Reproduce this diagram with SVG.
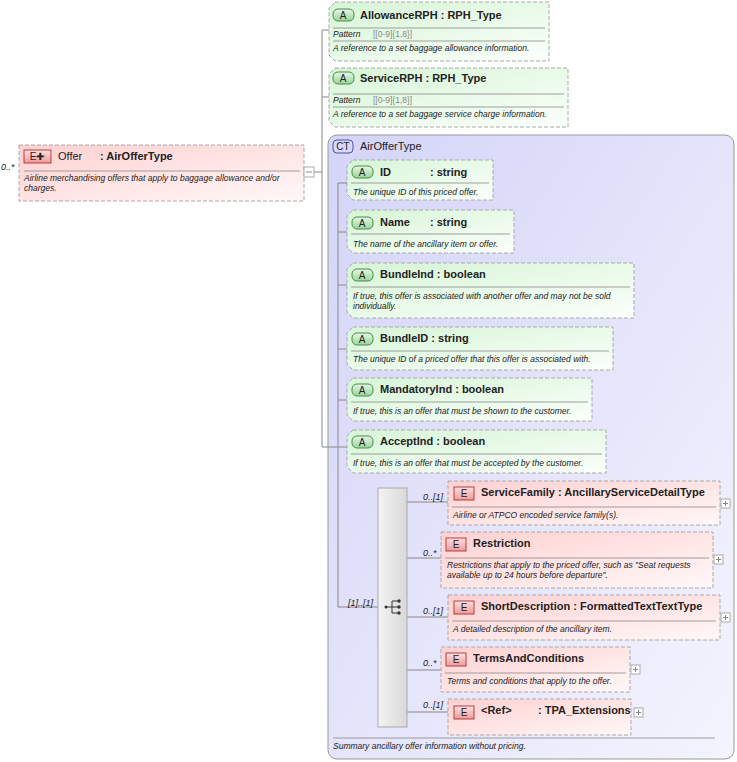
<svg xmlns="http://www.w3.org/2000/svg" width="737" height="762" viewBox="0 0 737 762">
<defs>
<linearGradient id="gA" x1="0" y1="0" x2="1" y2="1"><stop offset="0" stop-color="#d6f5d6"/><stop offset="1" stop-color="#fbfffb"/></linearGradient>
<linearGradient id="gE" x1="0" y1="0" x2="1" y2="1"><stop offset="0" stop-color="#ffd0d0"/><stop offset="1" stop-color="#fff8f8"/></linearGradient>
<linearGradient id="gCT" x1="0" y1="0" x2="1" y2="1"><stop offset="0" stop-color="#d4d4f8"/><stop offset="1" stop-color="#f4f4fe"/></linearGradient>
<linearGradient id="gS" x1="0" y1="0" x2="1" y2="0"><stop offset="0" stop-color="#f4f4f4"/><stop offset="1" stop-color="#d8d8d8"/></linearGradient>
<linearGradient id="gAb" x1="0" y1="0" x2="0" y2="1"><stop offset="0" stop-color="#e6f8e6"/><stop offset="1" stop-color="#9ad49a"/></linearGradient>
<linearGradient id="gEb" x1="0" y1="0" x2="0" y2="1"><stop offset="0" stop-color="#ffe0e0"/><stop offset="1" stop-color="#f09a9a"/></linearGradient>
</defs>
<style>
text{font-family:"Liberation Sans",Arial,sans-serif;fill:#222}
.h{font-size:11px;font-weight:bold}
.hn{font-size:11px}
.d{font-size:8.5px;font-style:italic}
.p{font-size:8.5px;fill:#888}
.m{font-size:9px;font-style:italic}
.box{stroke:#aaa;stroke-width:1;stroke-dasharray:4,2}
.a{fill:url(#gA)}
.e{fill:url(#gE)}
.sep{stroke:#888;stroke-width:0.8}
.ab{fill:url(#gAb);stroke:#4a8a4a}
.eb{fill:url(#gEb);stroke:#b04040}
.bt{font-size:10px;text-anchor:middle}
.ln{stroke:#888;fill:none}
.pl{fill:#fff;stroke:#aaa}
</style>
<g id="airOfferType">
<rect x="328" y="135" width="406" height="624" rx="9" fill="url(#gCT)" stroke="#999"/>
<rect x="333" y="140" width="20" height="13" rx="4" fill="#d8d8fa" stroke="#5050a0"/><text class="bt" x="343" y="150">CT</text>
<text class="hn" x="360" y="150">AirOfferType</text>
<line class="sep" x1="333" y1="738" x2="715" y2="738"/>
<text class="d" x="333" y="749">Summary ancillary offer information without pricing.</text>
</g>
<g id="connectors">
<path class="ln" d="M314,172H322M322,30V447H347M322,30H329M322,97H329M338,183V607H378M338,183H347M338,232H347M338,285H347M338,349H347M338,400H347M407,502H448M407,558H441M407,617H448M407,670H441M407,712H448"/>
</g>
<g id="offer">
<rect class="box e" x="19" y="145" width="285" height="56"/>
<rect class="eb" x="24" y="150" width="27" height="13"/><text class="bt" x="37" y="160">E✚</text>
<text class="hn" x="58" y="160">Offer</text><text class="h" x="100" y="160">: AirOfferType</text>
<line class="sep" x1="24" y1="171" x2="300" y2="171"/>
<text class="d" x="24" y="181">Airline merchandising offers that apply to baggage allowance and/or</text>
<text class="d" x="24" y="191">charges.</text>
<text class="m" x="1" y="170">0..*</text>
<rect class="pl" x="304" y="167" width="10" height="10"/><line class="ln" x1="306" y1="172" x2="312" y2="172"/>
</g>
<g id="allowanceRPH">
<path class="box a" d="M335,2H549V61H335L329,55V8Z"/>
<rect class="ab" x="333" y="9" width="21" height="12" rx="5"/><text class="bt" x="343" y="19">A</text>
<text class="h" x="360" y="19">AllowanceRPH : RPH_Type</text>
<line class="sep" x1="333" y1="28" x2="545" y2="28"/>
<text class="d" x="333" y="37">Pattern</text><text class="p" x="373" y="37">[[0-9]{1,8}]</text>
<line class="sep" x1="333" y1="41" x2="545" y2="41"/>
<text class="d" x="333" y="51">A reference to a set baggage allowance information.</text>
</g>
<g id="serviceRPH">
<path class="box a" d="M335,68H568V127H335L329,121V74Z"/>
<rect class="ab" x="333" y="72" width="21" height="12" rx="5"/><text class="bt" x="343" y="82">A</text>
<text class="h" x="360" y="82">ServiceRPH : RPH_Type</text>
<line class="sep" x1="333" y1="94" x2="564" y2="94"/>
<text class="d" x="333" y="103">Pattern</text><text class="p" x="373" y="103">[[0-9]{1,8}]</text>
<line class="sep" x1="333" y1="107" x2="564" y2="107"/>
<text class="d" x="333" y="117">A reference to a set baggage service charge information.</text>
</g>
<g id="ID">
<path class="box a" d="M353,160H493V200H353L347,194V166Z"/>
<rect class="ab" x="352" y="166" width="21" height="12" rx="5"/><text class="bt" x="362" y="176">A</text>
<text class="h" x="380" y="176">ID</text><text class="h" x="430" y="176">: string</text>
<line class="sep" x1="351" y1="183" x2="489" y2="183"/>
<text class="d" x="353" y="195">The unique ID of this priced offer.</text>
</g>
<g id="Name">
<path class="box a" d="M353,210H514V253H353L347,247V216Z"/>
<rect class="ab" x="352" y="217" width="21" height="12" rx="5"/><text class="bt" x="362" y="227">A</text>
<text class="h" x="380" y="226">Name</text><text class="h" x="430" y="226">: string</text>
<line class="sep" x1="351" y1="234" x2="510" y2="234"/>
<text class="d" x="353" y="247">The name of the ancillary item or offer.</text>
</g>
<g id="BundleInd">
<path class="box a" d="M353,263H634V318H353L347,312V269Z"/>
<rect class="ab" x="352" y="269" width="21" height="12" rx="5"/><text class="bt" x="362" y="279">A</text>
<text class="h" x="380" y="278">BundleInd : boolean</text>
<line class="sep" x1="351" y1="287" x2="630" y2="287"/>
<text class="d" x="353" y="299">If true, this offer is associated with another offer and may not be sold</text>
<text class="d" x="353" y="309">individually.</text>
</g>
<g id="BundleID">
<path class="box a" d="M353,327H613V370H353L347,364V333Z"/>
<rect class="ab" x="352" y="333" width="21" height="12" rx="5"/><text class="bt" x="362" y="343">A</text>
<text class="h" x="380" y="342">BundleID : string</text>
<line class="sep" x1="351" y1="351" x2="609" y2="351"/>
<text class="d" x="353" y="362">The unique ID of a priced offer that this offer is associated with.</text>
</g>
<g id="MandatoryInd">
<path class="box a" d="M353,378H592V421H353L347,415V384Z"/>
<rect class="ab" x="352" y="384" width="21" height="12" rx="5"/><text class="bt" x="362" y="394">A</text>
<text class="h" x="380" y="393">MandatoryInd : boolean</text>
<line class="sep" x1="351" y1="402" x2="588" y2="402"/>
<text class="d" x="353" y="414">If true, this is an offer that must be shown to the customer.</text>
</g>
<g id="AcceptInd">
<path class="box a" d="M353,430H606V473H353L347,467V436Z"/>
<rect class="ab" x="352" y="436" width="21" height="12" rx="5"/><text class="bt" x="362" y="446">A</text>
<text class="h" x="380" y="445">AcceptInd : boolean</text>
<line class="sep" x1="351" y1="454" x2="602" y2="454"/>
<text class="d" x="353" y="466">If true, this is an offer that must be accepted by the customer.</text>
</g>
<g id="sequence">
<rect x="378" y="488" width="29" height="239" fill="url(#gS)" stroke="#aaa"/>
<path d="M386,607H392M392,601V613M392,601H398M392,607H398M392,613H398" stroke="#333" fill="none"/>
<circle cx="386" cy="607" r="1.5" fill="#333"/><circle cx="399" cy="601" r="1.7" fill="#333"/><circle cx="399" cy="607" r="1.7" fill="#333"/><circle cx="399" cy="613" r="1.7" fill="#333"/>
<text class="m" x="348" y="606">[1]..[1]</text>
</g>
<g id="ServiceFamily">
<rect class="box e" x="448" y="481" width="272" height="44"/>
<rect class="eb" x="454" y="487" width="20" height="13"/><text class="bt" x="464" y="497">E</text>
<text class="h" x="481" y="496">ServiceFamily : AncillaryServiceDetailType</text>
<line class="sep" x1="452" y1="507" x2="716" y2="507"/>
<text class="d" x="453" y="518">Airline or ATPCO encoded service family(s).</text>
<text class="m" x="423" y="500">0..[1]</text>
<rect class="pl" x="721" y="499" width="9" height="9"/><path class="ln" d="M723,503.5H728M725.5,501V506"/>
</g>
<g id="Restriction">
<rect class="box e" x="441" y="532" width="272" height="56"/>
<rect class="eb" x="446" y="538" width="20" height="13"/><text class="bt" x="456" y="548">E</text>
<text class="h" x="473" y="547">Restriction</text>
<line class="sep" x1="445" y1="558" x2="709" y2="558"/>
<text class="d" x="447" y="568">Restrictions that apply to the priced offer, such as "Seat requests</text>
<text class="d" x="447" y="578">available up to 24 hours before departure".</text>
<text class="m" x="423" y="556">0..*</text>
<rect class="pl" x="714" y="555" width="9" height="9"/><path class="ln" d="M716,559.5H721M718.5,557V562"/>
</g>
<g id="ShortDescription">
<rect class="box e" x="448" y="595" width="272" height="45"/>
<rect class="eb" x="454" y="601" width="20" height="13"/><text class="bt" x="464" y="611">E</text>
<text class="h" x="481" y="610">ShortDescription : FormattedTextTextType</text>
<line class="sep" x1="452" y1="621" x2="716" y2="621"/>
<text class="d" x="453" y="632">A detailed description of the ancillary item.</text>
<text class="m" x="423" y="614">0..[1]</text>
<rect class="pl" x="721" y="613" width="9" height="9"/><path class="ln" d="M723,617.5H728M725.5,615V620"/>
</g>
<g id="TermsAndConditions">
<rect class="box e" x="441" y="647" width="189" height="45"/>
<rect class="eb" x="446" y="653" width="20" height="13"/><text class="bt" x="456" y="663">E</text>
<text class="h" x="473" y="662">TermsAndConditions</text>
<line class="sep" x1="445" y1="673" x2="626" y2="673"/>
<text class="d" x="447" y="684">Terms and conditions that apply to the offer.</text>
<text class="m" x="423" y="666">0..*</text>
<rect class="pl" x="631" y="665" width="9" height="9"/><path class="ln" d="M633,669.5H638M635.5,667V672"/>
</g>
<g id="TPA_Extensions">
<rect class="box e" x="448" y="699" width="183" height="36"/>
<rect class="eb" x="454" y="706" width="20" height="13"/><text class="bt" x="464" y="716">E</text>
<text class="h" x="481" y="714">&lt;Ref&gt;</text><text class="h" x="538" y="714">: TPA_Extensions</text>
<text class="m" x="423" y="708">0..[1]</text>
<rect class="pl" x="634" y="708" width="9" height="9"/><path class="ln" d="M636,712.5H641M638.5,710V715"/>
</g>
</svg>
